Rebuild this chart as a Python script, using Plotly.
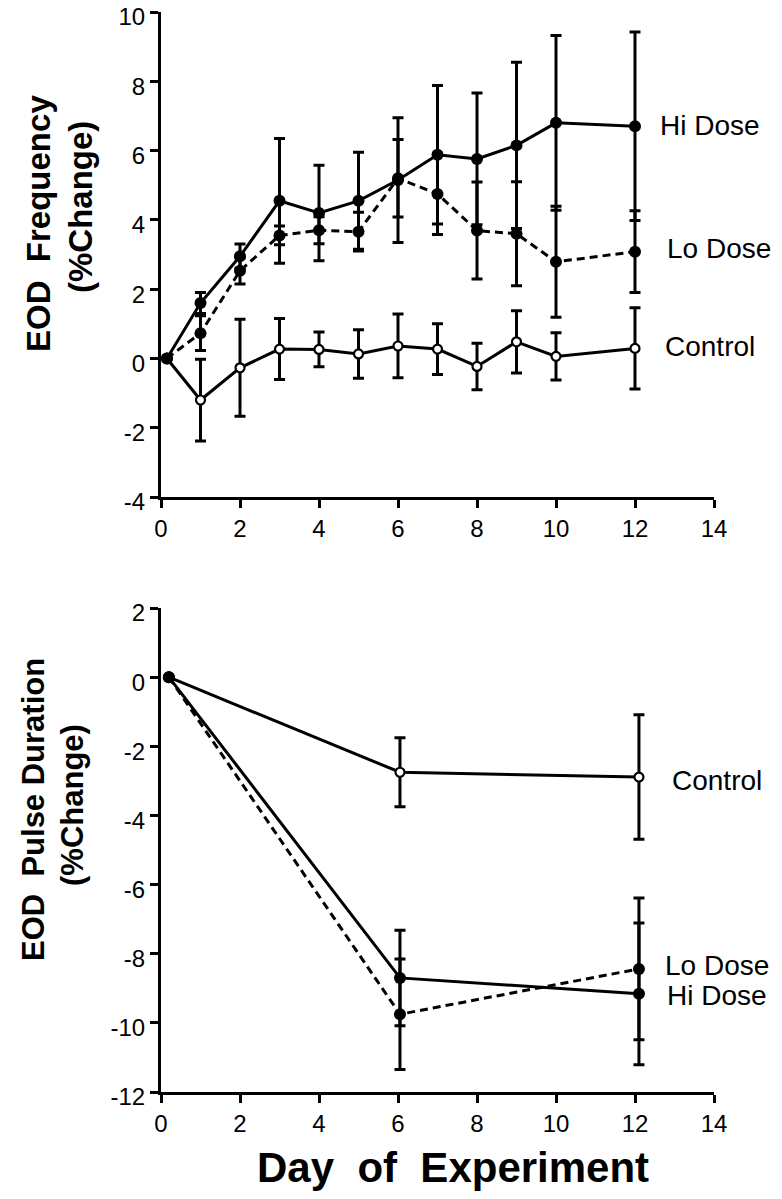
import plotly.graph_objects as go

# ---- Top panel: EOD Frequency (%Change) ----
days_top = [0.15, 1, 2, 3, 4, 5, 6, 7, 8, 9, 10, 12]
hi_freq = [0, 1.6, 2.95, 4.55, 4.2, 4.55, 5.15, 5.88, 5.76, 6.15, 6.8, 6.7]
hi_freq_err = [None, 0.3, 0.35, 1.8, 1.38, 1.4, 1.8, 2.0, 1.9, 2.4, 2.52, 2.72]
lo_freq = [0, 0.73, 2.53, 3.55, 3.7, 3.66, 5.2, 4.75, 3.69, 3.6, 2.79, 3.08]
lo_freq_err = [None, 0.5, 0.38, 0.27, 0.39, 0.56, 1.12, 1.17, 1.4, 1.5, 1.6, 1.18]
ctrl_freq = [0, -1.2, -0.27, 0.27, 0.26, 0.13, 0.36, 0.27, -0.23, 0.48, 0.06, 0.29]
ctrl_freq_err = [None, 1.18, 1.4, 0.88, 0.5, 0.7, 0.92, 0.73, 0.67, 0.9, 0.68, 1.17]

# ---- Bottom panel: EOD Pulse Duration (%Change) ----
days_bot = [0.2, 6.05, 12.1]
ctrl_dur = [0, -2.75, -2.89]
ctrl_dur_err = [None, 1.0, 1.8]
hi_dur = [0, -8.7, -9.16]
hi_dur_err = [None, 1.38, 2.05]
lo_dur = [0, -9.75, -8.44]
lo_dur_err = [None, 1.6, 2.05]

x_ticks = [0, 2, 4, 6, 8, 10, 12, 14]
x_tick_labels = ["0", "2", "4", "6", "8", "10", "12", "14"]
y_ticks_top = [-4, -2, 0, 2, 4, 6, 8, 10]
y_tick_labels_top = ["-4", "-2", "0", "2", "4", "6", "8", "10"]
y_ticks_bot = [-12, -10, -8, -6, -4, -2, 0, 2]
y_tick_labels_bot = ["-12", "-10", "-8", "-6", "-4", "-2", "0", "2"]

FONT = "Liberation Sans, Arial, Helvetica, sans-serif"
LW = 3


def err(arr):
    return dict(type="data", array=arr, visible=True, thickness=3, width=5.5, color="black")


def series(x, y, e, xa, ya, dash, filled):
    if filled:
        marker = dict(symbol="circle", size=12, color="black", line=dict(width=0))
    else:
        marker = dict(symbol="circle", size=9, color="white", line=dict(width=2.2, color="black"))
    return go.Scatter(
        x=x, y=y, error_y=err(e), xaxis=xa, yaxis=ya,
        mode="lines+markers",
        line=dict(color="black", width=LW, dash=dash),
        marker=marker, showlegend=False, cliponaxis=False,
    )


fig = go.Figure()
fig.add_trace(series(days_top, ctrl_freq, ctrl_freq_err, "x", "y", "solid", False))
fig.add_trace(series(days_top, lo_freq, lo_freq_err, "x", "y", "8px,5px", True))
fig.add_trace(series(days_top, hi_freq, hi_freq_err, "x", "y", "solid", True))

fig.add_trace(series(days_bot, ctrl_dur, ctrl_dur_err, "x2", "y2", "solid", False))
fig.add_trace(series(days_bot, lo_dur, lo_dur_err, "x2", "y2", "8px,5px", True))
fig.add_trace(series(days_bot, hi_dur, hi_dur_err, "x2", "y2", "solid", True))

axis_common = dict(
    showline=True, linecolor="black", linewidth=LW,
    ticks="outside", ticklen=8, tickwidth=LW, tickcolor="black",
    showgrid=False, zeroline=False, automargin=False, ticklabeloverflow="allow",
    tickfont=dict(family=FONT, size=24, color="black"),
)
y_extra = dict(ticklabelshift=5)

# the page body has an 8px default margin, so the figure is 8px smaller
fig.update_layout(
    width=774, height=1191,
    margin=dict(l=153, r=68, t=4, b=107, autoexpand=False),
    paper_bgcolor="white", plot_bgcolor="white",
    xaxis=dict(domain=[0, 1], anchor="y", range=[0, 14], tickvals=x_ticks,
               ticktext=x_tick_labels, **axis_common),
    yaxis=dict(domain=[0.5509, 1], anchor="x", range=[-4, 10], tickvals=y_ticks_top,
               ticktext=y_tick_labels_top, **axis_common, **y_extra),
    xaxis2=dict(domain=[0, 1], anchor="y2", range=[0, 14], tickvals=x_ticks,
                ticktext=x_tick_labels, **axis_common),
    yaxis2=dict(domain=[0, 0.4481], anchor="x2", range=[-12, 2], tickvals=y_ticks_bot,
                ticktext=y_tick_labels_bot, **axis_common, **y_extra),
)

lab_font = dict(family=FONT, size=28, color="black")

annots = [
    dict(text="Hi Dose", x=12.58, y=6.72, xref="x", yref="y"),
    dict(text="Lo Dose", x=12.76, y=3.16, xref="x", yref="y"),
    dict(text="Control", x=12.71, y=0.35, xref="x", yref="y"),
    dict(text="Control", x=12.89, y=-2.98, xref="x2", yref="y2"),
    dict(text="Lo Dose", x=12.71, y=-8.33, xref="x2", yref="y2"),
    dict(text="Hi Dose", x=12.76, y=-9.2, xref="x2", yref="y2"),
]
for a in annots:
    fig.add_annotation(**a, xanchor="left", yanchor="middle", showarrow=False, font=lab_font)

# (text, page-x of centre, page-y of centre, font size)
titles = [
    ("<b>EOD&nbsp;&nbsp;Frequency</b>", 38, 224, 33),
    ("<b>(%Change)</b>", 80, 207, 33),
    ("<b>EOD&nbsp;&nbsp;Pulse&nbsp;Duration</b>", 33, 810, 31),
    ("<b>(%Change)</b>", 72, 805, 31),
]
for t, px, py, fs in titles:
    fig.add_annotation(text=t, x=(px - 161) / 553, y=(1092 - py) / 1080, xref="paper", yref="paper",
                       textangle=-90, xanchor="center", yanchor="middle", showarrow=False,
                       font=dict(family=FONT, size=fs, color="black"))

fig.add_annotation(text="<b>Day&nbsp;&nbsp;of&nbsp;&nbsp;Experiment</b>", x=(453 - 161) / 553, y=-0.07,
                   xref="paper", yref="paper", xanchor="center", yanchor="middle",
                   showarrow=False, font=dict(family=FONT, size=42, color="black"))

fig.write_html("out.html")
